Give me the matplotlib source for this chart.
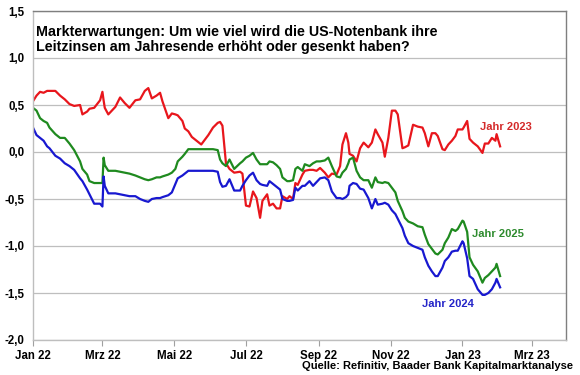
import matplotlib
matplotlib.use("Agg")
import matplotlib.pyplot as plt
import pandas as pd

plt.rcParams['font.family'] = ['Liberation Sans', 'DejaVu Sans']
plt.rcParams['font.weight'] = 'bold'

# Handelstage (gemeinsames Raster fuer alle drei Reihen)
datum = [
    "2022-01-01", "2022-01-04", "2022-01-07", "2022-01-10", "2022-01-13", "2022-01-15",
    "2022-01-20", "2022-01-24", "2022-01-28", "2022-02-01", "2022-02-05", "2022-02-10",
    "2022-02-12", "2022-02-16", "2022-02-18", "2022-02-22", "2022-02-27", "2022-03-01",
    "2022-03-02", "2022-03-03", "2022-03-06", "2022-03-12", "2022-03-16", "2022-03-20",
    "2022-03-24", "2022-03-29", "2022-04-02", "2022-04-06", "2022-04-09", "2022-04-12",
    "2022-04-16", "2022-04-19", "2022-04-21", "2022-04-26", "2022-04-29", "2022-05-02",
    "2022-05-04", "2022-05-08", "2022-05-10", "2022-05-13", "2022-05-16", "2022-05-20",
    "2022-05-24", "2022-05-30", "2022-06-03", "2022-06-07", "2022-06-09", "2022-06-11",
    "2022-06-14", "2022-06-17", "2022-06-21", "2022-06-26", "2022-06-28", "2022-07-01",
    "2022-07-04", "2022-07-07", "2022-07-10", "2022-07-13", "2022-07-15", "2022-07-19",
    "2022-07-21", "2022-07-24", "2022-07-27", "2022-07-30", "2022-08-01", "2022-08-05",
    "2022-08-07", "2022-08-10", "2022-08-12", "2022-08-14", "2022-08-18", "2022-08-20",
    "2022-08-24", "2022-08-27", "2022-08-30", "2022-09-02", "2022-09-06", "2022-09-09",
    "2022-09-12", "2022-09-16", "2022-09-19", "2022-09-21", "2022-09-24", "2022-09-26",
    "2022-09-27", "2022-09-30", "2022-10-03", "2022-10-06", "2022-10-09", "2022-10-13",
    "2022-10-16", "2022-10-19", "2022-10-21", "2022-10-25", "2022-10-27", "2022-10-30",
    "2022-11-02", "2022-11-05", "2022-11-07", "2022-11-11", "2022-11-13", "2022-11-16",
    "2022-11-20", "2022-11-24", "2022-11-28", "2022-11-30", "2022-12-03", "2022-12-06",
    "2022-12-09", "2022-12-11", "2022-12-15", "2022-12-17", "2022-12-20", "2022-12-23",
    "2022-12-26", "2022-12-28", "2023-01-01", "2023-01-02", "2023-01-05", "2023-01-07",
    "2023-01-10", "2023-01-14", "2023-01-18", "2023-01-20", "2023-01-23", "2023-01-26",
    "2023-01-29", "2023-01-30", "2023-02-02",
]

jahr_2023 = [
    0.54, 0.60, 0.64, 0.63, 0.65, 0.65, 0.65, 0.60, 0.56, 0.51, 0.49, 0.50,
    0.40, 0.43, 0.46, 0.47, 0.55, 0.64, 0.55, 0.47, 0.40, 0.48, 0.58, 0.52,
    0.47, 0.55, 0.56, 0.65, 0.68, 0.57, 0.60, 0.63, 0.54, 0.36, 0.41, 0.40,
    0.39, 0.33, 0.25, 0.22, 0.16, 0.12, 0.08, 0.18, 0.26, 0.31, 0.32, 0.28,
    -0.12, -0.18, -0.22, -0.21, -0.23, -0.57, -0.58, -0.42, -0.49, -0.70, -0.52, -0.45,
    -0.57, -0.55, -0.60, -0.60, -0.47, -0.50, -0.47, -0.50, -0.33, -0.35, -0.24, -0.20,
    -0.19, -0.19, -0.20, -0.17, -0.22, -0.27, -0.23, -0.24, -0.15, 0.08, 0.20, 0.10,
    -0.02, -0.04, -0.10, 0.04, 0.10, 0.05, 0.10, 0.24, 0.19, 0.10, -0.05, 0.15,
    0.44, 0.44, 0.40, 0.04, 0.05, 0.07, 0.29, 0.27, 0.26, 0.20, 0.06, 0.20,
    0.20, 0.17, 0.03, 0.02, 0.08, 0.12, 0.17, 0.24, 0.24, 0.26, 0.33, 0.14,
    0.10, 0.06, -0.01, 0.09, 0.09, 0.15, 0.12, 0.19, 0.06,
]

jahr_2025 = [
    0.47, 0.44, 0.36, 0.33, 0.31, 0.26, 0.19, 0.15, 0.15, 0.09, 0.02, -0.10,
    -0.18, -0.24, -0.31, -0.33, -0.33, -0.33, -0.06, -0.14, -0.20, -0.20, -0.21, -0.22,
    -0.23, -0.25, -0.27, -0.29, -0.30, -0.29, -0.27, -0.27, -0.26, -0.24, -0.22, -0.18,
    -0.10, -0.05, -0.02, 0.03, 0.03, 0.03, 0.03, 0.03, 0.03, 0.02, -0.08, -0.12,
    -0.15, -0.08, -0.18, -0.12, -0.10, -0.06, -0.04, -0.01, -0.08, -0.13, -0.13, -0.13,
    -0.10, -0.11, -0.14, -0.18, -0.27, -0.31, -0.31, -0.30, -0.18, -0.16, -0.20, -0.13,
    -0.15, -0.12, -0.10, -0.10, -0.09, -0.06, -0.15, -0.26, -0.27, -0.22, -0.18, -0.12,
    -0.08, -0.06, -0.20, -0.27, -0.30, -0.30, -0.38, -0.27, -0.32, -0.33, -0.32, -0.33,
    -0.38, -0.43, -0.52, -0.63, -0.70, -0.74, -0.76, -0.79, -0.80, -0.88, -0.98, -1.03,
    -1.08, -1.09, -1.04, -0.97, -0.91, -0.82, -0.84, -0.82, -0.73, -0.74, -0.85, -1.12,
    -1.20, -1.27, -1.39, -1.34, -1.31, -1.27, -1.23, -1.19, -1.32,
]

jahr_2024 = [
    0.26, 0.18, 0.15, 0.12, 0.06, 0.04, -0.04, -0.07, -0.12, -0.15, -0.19, -0.28,
    -0.31, -0.40, -0.45, -0.55, -0.55, -0.58, -0.26, -0.36, -0.44, -0.44, -0.45, -0.46,
    -0.47, -0.47, -0.50, -0.52, -0.53, -0.50, -0.49, -0.49, -0.48, -0.46, -0.43, -0.34,
    -0.28, -0.25, -0.23, -0.20, -0.20, -0.20, -0.20, -0.20, -0.20, -0.21, -0.32, -0.37,
    -0.36, -0.29, -0.41, -0.41, -0.36, -0.30, -0.25, -0.22, -0.30, -0.34, -0.35, -0.36,
    -0.31, -0.34, -0.37, -0.40, -0.50, -0.52, -0.52, -0.51, -0.38, -0.41, -0.36, -0.36,
    -0.31, -0.36, -0.32, -0.28, -0.27, -0.30, -0.42, -0.49, -0.49, -0.50, -0.48, -0.45,
    -0.36, -0.33, -0.34, -0.39, -0.40, -0.49, -0.60, -0.50, -0.56, -0.55, -0.54, -0.56,
    -0.62, -0.66, -0.71, -0.81, -0.89, -0.97, -1.00, -1.02, -1.04, -1.12, -1.21, -1.27,
    -1.32, -1.32, -1.23, -1.16, -1.12, -1.06, -1.05, -1.05, -0.95, -0.97, -1.13, -1.32,
    -1.35, -1.46, -1.52, -1.52, -1.50, -1.46, -1.39, -1.35, -1.44,
]

monats_ticks = ["2022-01-01", "2022-03-01", "2022-05-01", "2022-07-01",
                "2022-09-01", "2022-11-01", "2023-01-01", "2023-03-01"]
monats_labels = ["Jan 22", "Mrz 22", "Mai 22", "Jul 22",
                 "Sep 22", "Nov 22", "Jan 23", "Mrz 23"]
y_ticks = [1.5, 1.0, 0.5, 0.0, -0.5, -1.0, -1.5, -2.0]

df = pd.DataFrame({
    "datum": pd.to_datetime(datum),
    "2023": jahr_2023,
    "2025": jahr_2025,
    "2024": jahr_2024,
})

fig = plt.figure(figsize=(5.8, 3.75), dpi=100)
ax = fig.add_axes([33 / 580, 1 - 340 / 375, (566 - 33) / 580, (340 - 11) / 375])

rot, gruen, blau = "#E8161C", "#1F8A1F", "#1818D0"
ax.plot(df["datum"], df["2023"], color=rot, lw=1.6)
ax.plot(df["datum"], df["2025"], color=gruen, lw=1.6)
ax.plot(df["datum"], df["2024"], color=blau, lw=1.6)

ax.set_xlim(pd.Timestamp("2022-01-01"), pd.Timestamp("2023-03-30"))
ax.set_ylim(-2.0, 1.5)

ax.set_yticks(y_ticks)
ax.set_yticklabels([f"{v:.1f}".replace(".", ",") for v in y_ticks])
ax.set_xticks(pd.to_datetime(monats_ticks))
ax.set_xticklabels(monats_labels)
ax.tick_params(axis="y", length=0, pad=6, labelsize=8.3)
ax.tick_params(axis="x", length=4, width=0.8, color="#A0A0A0", direction="out",
               pad=3, labelsize=8.3)

ax.grid(axis="y", color="#BEBEBE", lw=0.9)
ax.set_axisbelow(True)
for seite in ["left", "bottom"]:
    ax.spines[seite].set_color("#BEBEBE")
    ax.spines[seite].set_linewidth(1.0)
for seite in ["top", "right"]:
    ax.spines[seite].set_color("#7F7F7F")
    ax.spines[seite].set_linewidth(1.0)

# Titel in der Grafik
ax.text(0.006, 0.957,
        "Markterwartungen: Um wie viel wird die US-Notenbank ihre\n"
        "Leitzinsen am Jahresende erhöht oder gesenkt haben?",
        transform=ax.transAxes, fontsize=10.3, fontweight="bold",
        va="top", ha="left", linespacing=1.12)

ax.text(pd.Timestamp("2023-01-16"), 0.27, "Jahr 2023", color="#D42A2A",
        fontsize=8, fontweight="bold", va="center")
ax.text(pd.Timestamp("2023-01-09"), -0.87, "Jahr 2025", color="#2E8B2E",
        fontsize=8, fontweight="bold", va="center")
ax.text(pd.Timestamp("2022-11-28"), -1.62, "Jahr 2024", color="#2424C8",
        fontsize=8, fontweight="bold", va="center")

fig.text(573 / 580, 1 - 366 / 375, "Quelle: Refinitiv, Baader Bank Kapitalmarktanalyse",
         fontsize=8, fontweight="bold", ha="right", va="center")

fig.savefig("out.png", dpi=100)
